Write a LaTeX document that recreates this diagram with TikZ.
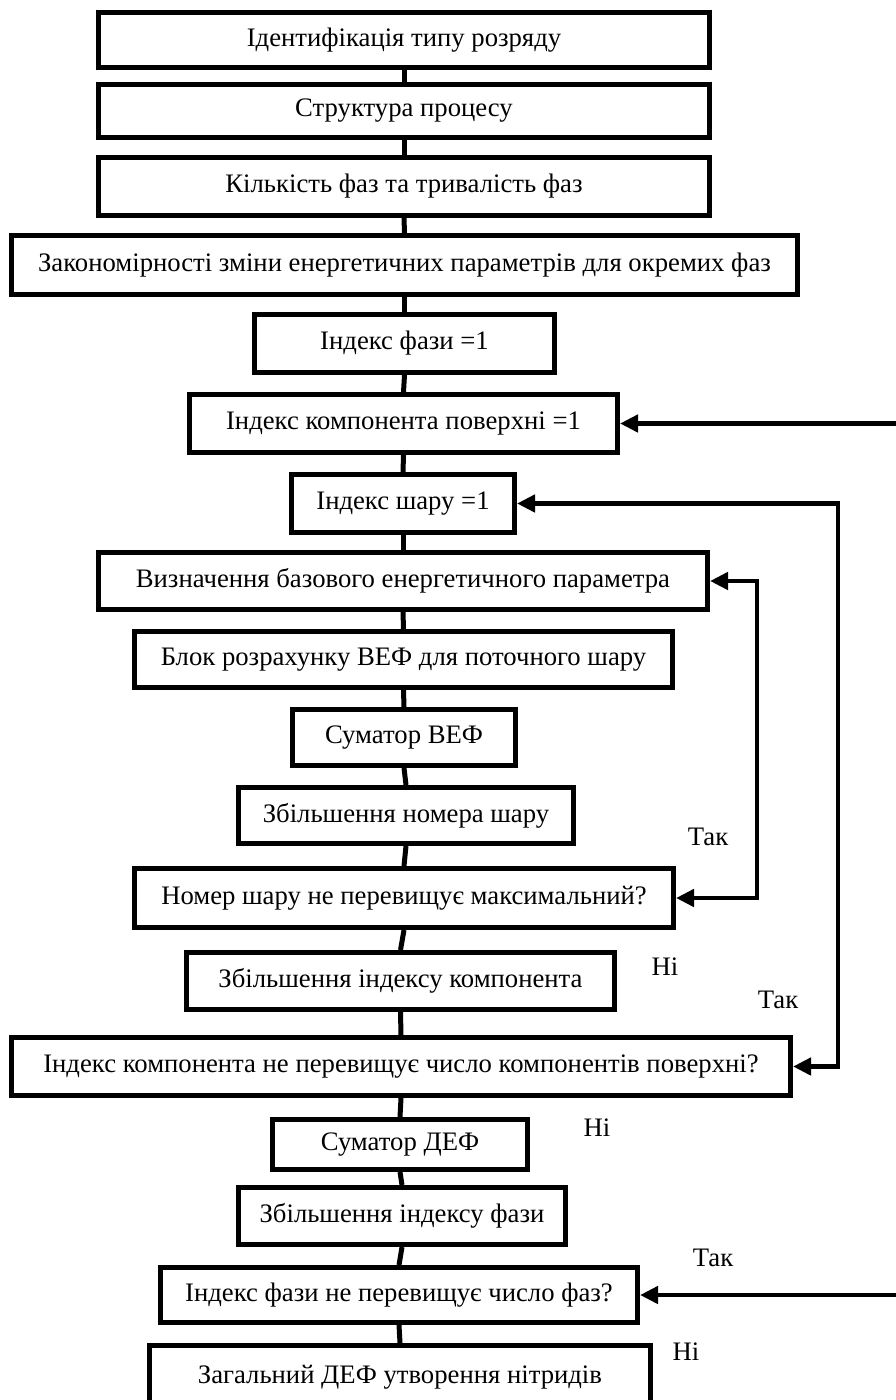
\documentclass[tikz,border=0pt]{standalone}
\usepackage{fontspec}
\setmainfont{Liberation Serif}
\usetikzlibrary{arrows.meta}
\tikzset{
  box/.style={draw, line width=5pt, rectangle, inner sep=0pt, align=center,
    font=\fontsize{26.7}{30}\selectfont},
  conn/.style={line width=5pt},
  arr/.style={line width=4.5pt, -{Triangle[length=18pt,width=17pt]}},
  arrs/.style={line width=4.5pt, {Triangle[length=18pt,width=17pt]}-{Triangle[length=18pt,width=17pt]}},
  lbl/.style={font=\fontsize{26.7}{30}\selectfont, inner sep=0pt}
}
\begin{document}
\begin{tikzpicture}[x=1pt,y=-1pt]
\useasboundingbox (0,0) rectangle (896,1400);
\clip (0,0) rectangle (896,1400);
\fill[white] (0,0) rectangle (896,1400);
\node[box, minimum width=611pt, minimum height=55pt] (b1) at (404,40) {Ідентифікація типу розряду};
\node[box, minimum width=611pt, minimum height=53pt] (b2) at (404,111) {Структура процесу};
\node[box, minimum width=611pt, minimum height=58pt] (b3) at (404,186.5) {Кількість фаз та тривалість фаз};
\node[box, minimum width=786pt, minimum height=59pt] (b4) at (404.5,265) {Закономірності зміни енергетичних параметрів для окремих фаз};
\node[box, minimum width=300pt, minimum height=58pt] (b5) at (404.5,343.5) {Індекс фази =1};
\node[box, minimum width=428pt, minimum height=58pt] (b6) at (403.5,423.5) {Індекс компонента поверхні =1};
\node[box, minimum width=223pt, minimum height=58pt] (b7) at (403,503.5) {Індекс шару =1};
\node[box, minimum width=609pt, minimum height=57pt] (b8) at (403,581) {Визначення базового енергетичного параметра};
\node[box, minimum width=538pt, minimum height=56pt] (b9) at (403.5,659.5) {Блок розрахунку ВЕФ для поточного шару};
\node[box, minimum width=223pt, minimum height=56pt] (b10) at (404,737.5) {Суматор ВЕФ};
\node[box, minimum width=335pt, minimum height=56pt] (b11) at (406,815.5) {Збільшення номера шару};
\node[box, minimum width=539pt, minimum height=59pt] (b12) at (404,898) {Номер шару не перевищує максимальний?};
\node[box, minimum width=428pt, minimum height=57pt] (b13) at (400.5,981) {Збільшення індексу компонента};
\node[box, minimum width=779pt, minimum height=58pt] (b14) at (401,1066.5) {Індекс компонента не перевищує число компонентів поверхні?};
\node[box, minimum width=255pt, minimum height=50pt] (b15) at (400,1144.5) {Суматор ДЕФ};
\node[box, minimum width=327pt, minimum height=57pt] (b16) at (402,1216) {Збільшення індексу фази};
\node[box, minimum width=477pt, minimum height=55pt] (b17) at (399,1295) {Індекс фази не перевищує число фаз?};
\node[box, minimum width=501pt, minimum height=63pt] (b18) at (400,1377) {Загальний ДЕФ утворення нітридів};
\foreach \a/\b in {b1/b2,b2/b3,b3/b4,b4/b5,b5/b6,b6/b7,b7/b8,b8/b9,b9/b10,b10/b11,b11/b12,b12/b13,b13/b14,b14/b15,b15/b16,b16/b17,b17/b18}
  \draw[conn] (\a.south) -- (\b.north);
\coordinate (i1) at (757,581);
\coordinate (i2) at (757,898);
\coordinate (o1) at (838,503.5);
\coordinate (o2) at (838,1066.5);
\coordinate (r1) at (910,423.5);
\coordinate (r2) at (910,1295);
\draw[arrs] (b12.east) -- (i2) -- (i1) -- (b8.east);
\draw[arrs] (b14.east) -- (o2) -- (o1) -- (b7.east);
\draw[arrs] (b17.east) -- (r2) -- (r1) -- (b6.east);
\node[lbl] (t1) at (708,837) {Так};
\node[lbl] (n1) at (665,967) {Ні};
\node[lbl] (t2) at (778,1000) {Так};
\node[lbl] (n2) at (597,1128) {Ні};
\node[lbl] (t3) at (713,1258) {Так};
\node[lbl] (n3) at (686,1352) {Ні};
\end{tikzpicture}
\end{document}
